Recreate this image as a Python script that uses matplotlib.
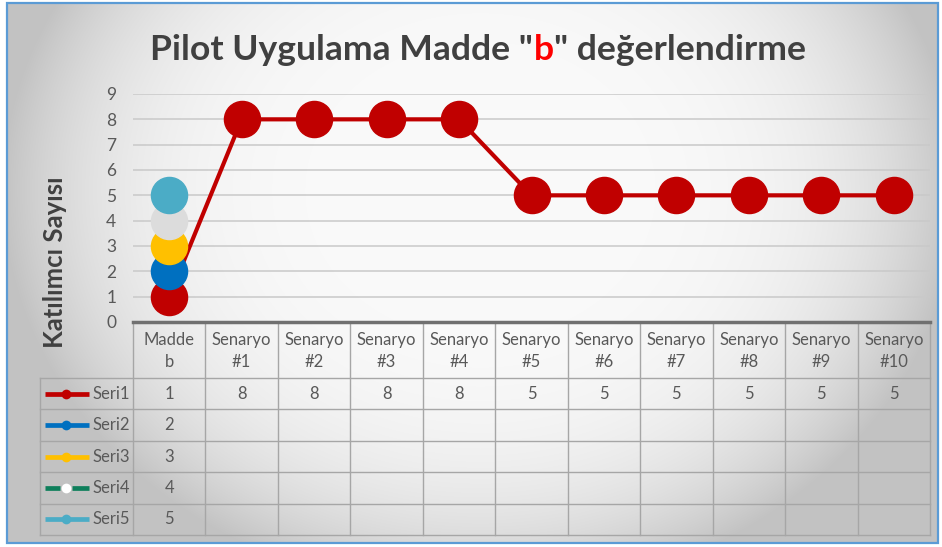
import numpy as np
import matplotlib
matplotlib.use("Agg")
import matplotlib.pyplot as plt
from matplotlib.patches import Rectangle

# ---------------- data ----------------
categories = ["Madde\nb", "Senaryo\n#1", "Senaryo\n#2", "Senaryo\n#3", "Senaryo\n#4",
              "Senaryo\n#5", "Senaryo\n#6", "Senaryo\n#7", "Senaryo\n#8", "Senaryo\n#9",
              "Senaryo\n#10"]
nan = np.nan
seri1 = [1, 8, 8, 8, 8, 5, 5, 5, 5, 5, 5]
seri2 = [2, nan, nan, nan, nan, nan, nan, nan, nan, nan, nan]
seri3 = [3, nan, nan, nan, nan, nan, nan, nan, nan, nan, nan]
seri4 = [4, nan, nan, nan, nan, nan, nan, nan, nan, nan, nan]
seri5 = [5, nan, nan, nan, nan, nan, nan, nan, nan, nan, nan]
series_names = ["Seri1", "Seri2", "Seri3", "Seri4", "Seri5"]
yticks = [0, 1, 2, 3, 4, 5, 6, 7, 8, 9]
title_parts = ['Pilot Uygulama Madde "', 'b', '" değerlendirme']
ylabel = "Katılımcı Sayısı"

# ---------------- style ----------------
FONT = "Lato"
plt.rcParams["font.family"] = [FONT, "DejaVu Sans"]
W, H = 942, 547
TXT = "#595959"
TFS = 12
line_colors = ["#C00000", "#0070C0", "#FFC000", "#0E7F5B", "#4BACC6"]
marker_colors = ["#C00000", "#0070C0", "#FFC000", "#DCDCDC", "#4BACC6"]
title_colors = ["#404040", "#FF0000", "#404040"]

fig = plt.figure(figsize=(W / 100, H / 100), dpi=100)
fig.patch.set_facecolor("white")

# background gradient + border
bg = fig.add_axes([0, 0, 1, 1])
bg.set_xlim(0, W)
bg.set_ylim(H, 0)
bg.axis("off")
yy, xx = np.mgrid[4:542, 8:938]
r2 = ((xx - 480) / 470.0) ** 2 + ((yy - 190) / 400.0) ** 2
v = np.clip(250 - 52 * r2 ** 2, 194, 250) / 255.0
rgb = np.dstack([v, v, v])
bg.imshow(rgb, extent=(8, 938, 542, 4), aspect="auto", interpolation="bilinear", zorder=0)
bg.add_patch(Rectangle((7, 3), 931, 540, fill=False, ec="#5B9BD5", lw=1.6, zorder=1))

# ---------------- main plot ----------------
L, R, TOP, BOT = 133, 930, 94, 322
ax = fig.add_axes([L / W, 1 - BOT / H, (R - L) / W, (BOT - TOP) / H])
ax.patch.set_alpha(0)
x = np.arange(len(categories))
ax.set_xlim(-0.5, len(categories) - 0.5)
ax.set_ylim(0, 9)
all_series = [seri1, seri2, seri3, seri4, seri5]
for i, s in enumerate(all_series):
    ax.plot(x, s, color=line_colors[i], lw=3, marker="o", ms=26,
            mfc=marker_colors[i], mec=marker_colors[i], zorder=3 + i, clip_on=False)
ax.set_yticks(yticks)
ax.set_yticklabels([str(t) for t in yticks], fontsize=12.5, color=TXT)
ax.tick_params(axis="y", length=0, pad=12)
ax.set_xticks([])
ax.grid(axis="y", color="#C9C9C9", lw=1.1)
ax.set_axisbelow(True)
for sp in ax.spines.values():
    sp.set_visible(False)

fig.text(55 / W, 1 - 262 / H, ylabel, rotation=90, fontsize=18.5, fontweight="bold",
         color="#404040", ha="center", va="center")

# ---------------- data table ----------------
TB = 535
tab = fig.add_axes([L / W, 1 - TB / H, (R - L) / W, (TB - BOT) / H])
tab.set_xlim(-0.5, len(categories) - 0.5)
tab.set_ylim(TB - BOT, 0)
tab.axis("off")
colw = (R - L) / len(categories)
def px2x(px):
    return -0.5 + (px - L) / colw
lx = px2x(40)
hh = 56
rh = (TB - BOT - hh) / len(all_series)
gc = "#A6A6A6"
tab.plot([-0.5, len(categories) - 0.5], [0, 0], color="#707070", lw=2.5, clip_on=False, zorder=5)
for j in range(len(all_series) + 1):
    yv = hh + j * rh
    tab.plot([lx, len(categories) - 0.5], [yv, yv], color=gc, lw=1, clip_on=False)
for i in range(len(categories) + 1):
    tab.plot([i - 0.5, i - 0.5], [0, TB - BOT], color=gc, lw=1, clip_on=False)
tab.plot([lx, lx], [hh, TB - BOT], color=gc, lw=1, clip_on=False)

for i, c in enumerate(categories):
    tab.text(i, hh / 2 + 1, c, ha="center", va="center", fontsize=TFS, color=TXT,
             linespacing=1.45)
for j, s in enumerate(all_series):
    yc = hh + (j + 0.5) * rh
    for i, val in enumerate(s):
        if not np.isnan(val):
            tab.text(i, yc, f"{val:g}", ha="center", va="center", fontsize=TFS, color=TXT)
    # legend key
    if j == 3:
        tab.plot([px2x(45), px2x(60)], [yc, yc], color=line_colors[j], lw=3.4,
                 solid_capstyle="butt", clip_on=False)
        tab.plot([px2x(72), px2x(89)], [yc, yc], color=line_colors[j], lw=3.4,
                 solid_capstyle="butt", clip_on=False)
    else:
        tab.plot([px2x(45), px2x(89)], [yc, yc], color=line_colors[j], lw=3.4,
                 solid_capstyle="butt", clip_on=False)
    tab.plot([px2x(66)], [yc], marker="o", ms=7, color=marker_colors[j] if j != 3 else "white",
             mec="none", clip_on=False)
    tab.text(px2x(130), yc, series_names[j], ha="right", va="center", fontsize=TFS, color=TXT)

# ---------------- title (multi-colour) ----------------
fig.canvas.draw()
rend = fig.canvas.get_renderer()
def widths(size):
    ws = []
    for t in title_parts:
        tx = fig.text(0, 0, t, fontsize=size, fontweight="bold")
        ws.append(tx.get_window_extent(rend).width)
        tx.remove()
    return ws
size = 22
ws = widths(size)
size = size * 653 / sum(ws)
ws = widths(size)
x0 = 478 - sum(ws) / 2
for t, c, w in zip(title_parts, title_colors, ws):
    fig.text(x0 / W, 1 - 60 / H, t, fontsize=size, fontweight="bold", color=c,
             ha="left", va="baseline")
    x0 += w

fig.savefig("out.png", dpi=100)
